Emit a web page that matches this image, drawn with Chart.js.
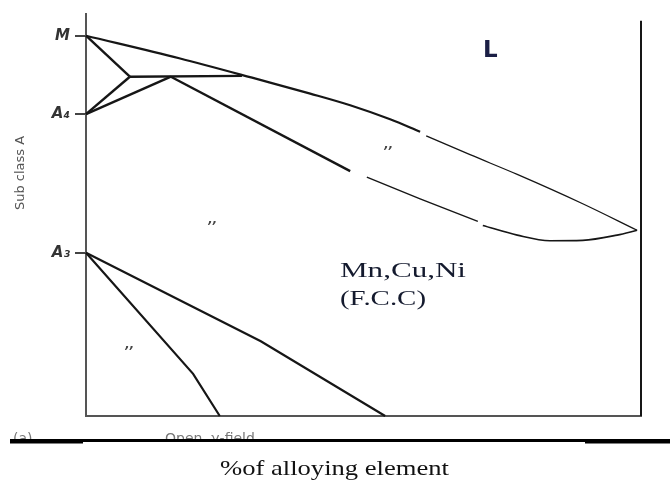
<!DOCTYPE html>
<html>
<head>
<meta charset="utf-8">
<script src="https://cdn.jsdelivr.net/npm/chart.js@4.4.1/dist/chart.umd.min.js"></script>
<style>
  html, body { margin: 0; padding: 0; background: #fff; }
  #wrap { width: 670px; height: 485px; position: relative; }
</style>
</head>
<body>
<div id="wrap"><canvas id="phaseChart"></canvas></div>
<script>
// temperature ticks on the left axis
const tickValues = [40.6, 75.1, 94.6];
const tickLabels = ['A\u2083', 'A\u2084', 'M'];

// boundary lines, [% alloy, temperature]
const meltToJunction = [[0, 94.6], [7.9, 84.4]];
const a4ToJunction = [[0, 75.1], [7.9, 84.4]];
const a4ToPeritectic = [[0, 75.1], [15.3, 84.4]];
const peritecticLine = [[7.9, 84.4], [28.1, 84.6]];
const liquidusSolid = [[0, 94.6], [16.8, 89.0], [31.4, 83.6], [40.4, 80.2], [47.6, 77.3], [54.8, 73.8], [60.2, 70.7]];
const liquidusThin = [[61.3, 69.7], [69.2, 65.0], [77.7, 60.1], [89.5, 52.8], [99.3, 46.2]];
const solidusSolid = [[15.3, 84.4], [47.6, 60.9]];
const solidusThin = [[50.6, 59.4], [60.2, 54.0], [70.6, 48.4]];
const solidusTail = [[71.5, 47.4], [77.7, 45.0], [83.6, 43.6], [89.5, 43.7], [95.7, 45.0], [99.3, 46.2]];
const a3Inner = [[0, 40.6], [19.3, 10.5], [24.1, 0]];
const a3Outer = [[0, 40.6], [31.5, 18.6], [53.9, 0]];
const rightEdge = [[100, 98.3], [100, 0]];

function pts(arr) {
  return arr.map(p => ({ x: p[0], y: p[1] }));
}

function line(arr, width, smooth) {
  return {
    data: pts(arr),
    showLine: true,
    borderColor: '#161616',
    borderWidth: width,
    pointRadius: 0,
    clip: false,
    cubicInterpolationMode: smooth ? 'monotone' : 'default',
    tension: 0
  };
}

function stretchText(ctx, text, x, y, targetW) {
  const w = ctx.measureText(text).width;
  ctx.save();
  ctx.translate(x, y);
  ctx.scale(targetW / w, 1);
  ctx.fillText(text, 0, 0);
  ctx.restore();
}

const labelPlugin = {
  id: 'labels',
  afterDraw(chart) {
    const ctx = chart.ctx;
    ctx.save();
    ctx.textBaseline = 'alphabetic';
    ctx.textAlign = 'left';

    // rotated axis title
    ctx.save();
    ctx.translate(24, 173);
    ctx.rotate(-Math.PI / 2);
    ctx.textAlign = 'center';
    ctx.fillStyle = '#555';
    ctx.font = '13px "DejaVu Sans"';
    ctx.fillText('Sub class A', 0, 0);
    ctx.restore();

    // L
    ctx.fillStyle = '#1b1f45';
    ctx.font = 'bold 23px "DejaVu Sans"';
    ctx.fillText('L', 483, 57);

    // alpha marks
    ctx.fillStyle = '#444';
    ctx.font = 'bold italic 12px "DejaVu Sans"';
    ctx.fillText('\u2019\u2019', 383, 155);
    ctx.fillText('\u2019\u2019', 207, 230);
    ctx.fillText('\u2019\u2019', 124, 355);

    // element label
    ctx.fillStyle = '#141a2e';
    ctx.font = '21px "Liberation Serif"';
    stretchText(ctx, 'Mn,Cu,Ni', 340, 277, 126);
    stretchText(ctx, '(F.C.C)', 340, 305, 86);

    // cut-off caption under the plot
    ctx.fillStyle = '#777';
    ctx.font = '14px "DejaVu Sans"';
    ctx.fillText('Open  \u03b3-field', 165, 443);
    ctx.fillText('(a)', 13, 443);
    ctx.fillStyle = '#fff';
    ctx.fillRect(0, 441, 670, 14);

    // thick rule
    ctx.fillStyle = '#000';
    ctx.fillRect(10, 439, 73, 4.5);
    ctx.fillRect(83, 439, 502, 3);
    ctx.fillRect(585, 439, 85, 4.5);

    // x title
    ctx.fillStyle = '#111';
    ctx.font = '22px "Liberation Serif"';
    stretchText(ctx, '%of alloying element', 220, 475, 229);
    ctx.restore();
  }
};

new Chart(document.getElementById('phaseChart'), {
  type: 'scatter',
  data: {
    datasets: [
      line(meltToJunction, 2.4),
      line(a4ToJunction, 2.4),
      line(a4ToPeritectic, 2.4),
      line(peritecticLine, 2.4),
      line(liquidusSolid, 2.2, true),
      line(liquidusThin, 1.3, true),
      line(solidusSolid, 2.4),
      line(solidusThin, 1.4),
      line(solidusTail, 1.7, true),
      line(a3Inner, 2.2),
      line(a3Outer, 2.2),
      line(rightEdge, 2)
    ]
  },
  options: {
    responsive: true,
    maintainAspectRatio: false,
    animation: false,
    layout: { padding: { top: 7, right: 29, left: 0, bottom: 0 } },
    plugins: {
      legend: { display: false },
      tooltip: { enabled: false }
    },
    scales: {
      x: {
        type: 'linear',
        min: 0,
        max: 100,
        ticks: { display: false },
        grid: { display: false },
        border: { display: true, color: '#555', width: 2 },
        afterFit: s => { s.height = 69; }
      },
      y: {
        type: 'linear',
        min: 0,
        max: 100,
        afterBuildTicks: s => { s.ticks = tickValues.map(v => ({ value: v })); },
        ticks: {
          autoSkip: false,
          padding: 5,
          color: '#333',
          font: { family: 'DejaVu Sans', size: 15, weight: 'bold', style: 'italic' },
          callback: (v, i) => tickLabels[i]
        },
        grid: { drawOnChartArea: false, drawTicks: true, tickLength: 11, color: '#444', lineWidth: 2 },
        border: { display: true, color: '#555', width: 2 },
        afterFit: s => { s.width = 86; }
      }
    }
  },
  plugins: [labelPlugin]
});
</script>
</body>
</html>
